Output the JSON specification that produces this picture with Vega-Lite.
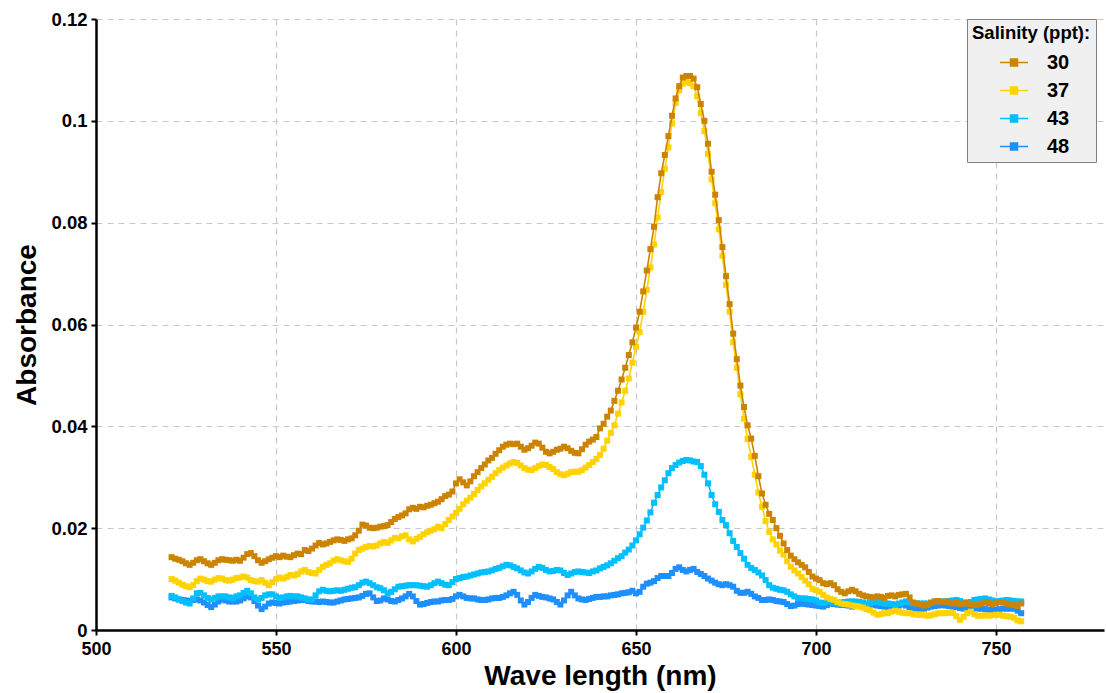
{
"$schema": "https://vega.github.io/schema/vega-lite/v6.json",
"width": 1008, "height": 611,
"autosize": {"type": "none"},
"padding": {"left": 96, "top": 19, "right": 2, "bottom": 63},
"background": "white",
"config": {"view": {"stroke": null}, "font": "Liberation Sans"},
"datasets": {
"s48": [
{"w":521,"s":"48","a":0.0064},{"w":522,"s":"48","a":0.0062},{"w":523,"s":"48","a":0.0060},{"w":524,"s":"48","a":0.0059},{"w":525,"s":"48","a":0.0058},{"w":526,"s":"48","a":0.0057},{"w":527,"s":"48","a":0.0059},{"w":528,"s":"48","a":0.0060},{"w":529,"s":"48","a":0.0058},{"w":530,"s":"48","a":0.0054},
{"w":531,"s":"48","a":0.0049},{"w":532,"s":"48","a":0.0045},{"w":533,"s":"48","a":0.0050},{"w":534,"s":"48","a":0.0056},{"w":535,"s":"48","a":0.0060},{"w":536,"s":"48","a":0.0058},{"w":537,"s":"48","a":0.0056},{"w":538,"s":"48","a":0.0056},{"w":539,"s":"48","a":0.0056},{"w":540,"s":"48","a":0.0058},
{"w":541,"s":"48","a":0.0062},{"w":542,"s":"48","a":0.0066},{"w":543,"s":"48","a":0.0064},{"w":544,"s":"48","a":0.0057},{"w":545,"s":"48","a":0.0048},{"w":546,"s":"48","a":0.0041},{"w":547,"s":"48","a":0.0046},{"w":548,"s":"48","a":0.0052},{"w":549,"s":"48","a":0.0054},{"w":550,"s":"48","a":0.0053},
{"w":551,"s":"48","a":0.0052},{"w":552,"s":"48","a":0.0054},{"w":553,"s":"48","a":0.0055},{"w":554,"s":"48","a":0.0056},{"w":555,"s":"48","a":0.0057},{"w":556,"s":"48","a":0.0058},{"w":557,"s":"48","a":0.0059},{"w":558,"s":"48","a":0.0059},{"w":559,"s":"48","a":0.0057},{"w":560,"s":"48","a":0.0056},
{"w":561,"s":"48","a":0.0056},{"w":562,"s":"48","a":0.0055},{"w":563,"s":"48","a":0.0056},{"w":564,"s":"48","a":0.0055},{"w":565,"s":"48","a":0.0054},{"w":566,"s":"48","a":0.0054},{"w":567,"s":"48","a":0.0056},{"w":568,"s":"48","a":0.0058},{"w":569,"s":"48","a":0.0060},{"w":570,"s":"48","a":0.0061},
{"w":571,"s":"48","a":0.0062},{"w":572,"s":"48","a":0.0063},{"w":573,"s":"48","a":0.0064},{"w":574,"s":"48","a":0.0067},{"w":575,"s":"48","a":0.0071},{"w":576,"s":"48","a":0.0072},{"w":577,"s":"48","a":0.0064},{"w":578,"s":"48","a":0.0057},{"w":579,"s":"48","a":0.0058},{"w":580,"s":"48","a":0.0062},
{"w":581,"s":"48","a":0.0060},{"w":582,"s":"48","a":0.0057},{"w":583,"s":"48","a":0.0056},{"w":584,"s":"48","a":0.0059},{"w":585,"s":"48","a":0.0062},{"w":586,"s":"48","a":0.0066},{"w":587,"s":"48","a":0.0071},{"w":588,"s":"48","a":0.0066},{"w":589,"s":"48","a":0.0057},{"w":590,"s":"48","a":0.0050},
{"w":591,"s":"48","a":0.0051},{"w":592,"s":"48","a":0.0053},{"w":593,"s":"48","a":0.0055},{"w":594,"s":"48","a":0.0056},{"w":595,"s":"48","a":0.0056},{"w":596,"s":"48","a":0.0058},{"w":597,"s":"48","a":0.0059},{"w":598,"s":"48","a":0.0059},{"w":599,"s":"48","a":0.0061},{"w":600,"s":"48","a":0.0066},
{"w":601,"s":"48","a":0.0069},{"w":602,"s":"48","a":0.0066},{"w":603,"s":"48","a":0.0063},{"w":604,"s":"48","a":0.0062},{"w":605,"s":"48","a":0.0062},{"w":606,"s":"48","a":0.0060},{"w":607,"s":"48","a":0.0059},{"w":608,"s":"48","a":0.0059},{"w":609,"s":"48","a":0.0060},{"w":610,"s":"48","a":0.0062},
{"w":611,"s":"48","a":0.0063},{"w":612,"s":"48","a":0.0063},{"w":613,"s":"48","a":0.0065},{"w":614,"s":"48","a":0.0068},{"w":615,"s":"48","a":0.0072},{"w":616,"s":"48","a":0.0075},{"w":617,"s":"48","a":0.0069},{"w":618,"s":"48","a":0.0058},{"w":619,"s":"48","a":0.0050},{"w":620,"s":"48","a":0.0055},
{"w":621,"s":"48","a":0.0063},{"w":622,"s":"48","a":0.0069},{"w":623,"s":"48","a":0.0067},{"w":624,"s":"48","a":0.0065},{"w":625,"s":"48","a":0.0064},{"w":626,"s":"48","a":0.0062},{"w":627,"s":"48","a":0.0060},{"w":628,"s":"48","a":0.0055},{"w":629,"s":"48","a":0.0050},{"w":630,"s":"48","a":0.0058},
{"w":631,"s":"48","a":0.0068},{"w":632,"s":"48","a":0.0075},{"w":633,"s":"48","a":0.0068},{"w":634,"s":"48","a":0.0062},{"w":635,"s":"48","a":0.0060},{"w":636,"s":"48","a":0.0059},{"w":637,"s":"48","a":0.0061},{"w":638,"s":"48","a":0.0063},{"w":639,"s":"48","a":0.0065},{"w":640,"s":"48","a":0.0065},
{"w":641,"s":"48","a":0.0066},{"w":642,"s":"48","a":0.0066},{"w":643,"s":"48","a":0.0068},{"w":644,"s":"48","a":0.0069},{"w":645,"s":"48","a":0.0070},{"w":646,"s":"48","a":0.0072},{"w":647,"s":"48","a":0.0073},{"w":648,"s":"48","a":0.0074},{"w":649,"s":"48","a":0.0077},{"w":650,"s":"48","a":0.0072},
{"w":651,"s":"48","a":0.0075},{"w":652,"s":"48","a":0.0085},{"w":653,"s":"48","a":0.0091},{"w":654,"s":"48","a":0.0093},{"w":655,"s":"48","a":0.0096},{"w":656,"s":"48","a":0.0102},{"w":657,"s":"48","a":0.0106},{"w":658,"s":"48","a":0.0106},{"w":659,"s":"48","a":0.0106},{"w":660,"s":"48","a":0.0112},
{"w":661,"s":"48","a":0.0120},{"w":662,"s":"48","a":0.0123},{"w":663,"s":"48","a":0.0118},{"w":664,"s":"48","a":0.0115},{"w":665,"s":"48","a":0.0118},{"w":666,"s":"48","a":0.0120},{"w":667,"s":"48","a":0.0114},{"w":668,"s":"48","a":0.0110},{"w":669,"s":"48","a":0.0106},{"w":670,"s":"48","a":0.0101},
{"w":671,"s":"48","a":0.0097},{"w":672,"s":"48","a":0.0093},{"w":673,"s":"48","a":0.0090},{"w":674,"s":"48","a":0.0088},{"w":675,"s":"48","a":0.0090},{"w":676,"s":"48","a":0.0088},{"w":677,"s":"48","a":0.0085},{"w":678,"s":"48","a":0.0077},{"w":679,"s":"48","a":0.0073},{"w":680,"s":"48","a":0.0073},
{"w":681,"s":"48","a":0.0075},{"w":682,"s":"48","a":0.0071},{"w":683,"s":"48","a":0.0066},{"w":684,"s":"48","a":0.0063},{"w":685,"s":"48","a":0.0059},{"w":686,"s":"48","a":0.0059},{"w":687,"s":"48","a":0.0060},{"w":688,"s":"48","a":0.0059},{"w":689,"s":"48","a":0.0057},{"w":690,"s":"48","a":0.0056},
{"w":691,"s":"48","a":0.0055},{"w":692,"s":"48","a":0.0051},{"w":693,"s":"48","a":0.0047},{"w":694,"s":"48","a":0.0048},{"w":695,"s":"48","a":0.0051},{"w":696,"s":"48","a":0.0052},{"w":697,"s":"48","a":0.0051},{"w":698,"s":"48","a":0.0050},{"w":699,"s":"48","a":0.0049},{"w":700,"s":"48","a":0.0048},
{"w":701,"s":"48","a":0.0047},{"w":702,"s":"48","a":0.0046},{"w":703,"s":"48","a":0.0049},{"w":704,"s":"48","a":0.0052},{"w":705,"s":"48","a":0.0051},{"w":706,"s":"48","a":0.0050},{"w":707,"s":"48","a":0.0049},{"w":708,"s":"48","a":0.0049},{"w":709,"s":"48","a":0.0048},{"w":710,"s":"48","a":0.0046},
{"w":711,"s":"48","a":0.0047},{"w":712,"s":"48","a":0.0048},{"w":713,"s":"48","a":0.0049},{"w":714,"s":"48","a":0.0049},{"w":715,"s":"48","a":0.0049},{"w":716,"s":"48","a":0.0049},{"w":717,"s":"48","a":0.0048},{"w":718,"s":"48","a":0.0047},{"w":719,"s":"48","a":0.0046},{"w":720,"s":"48","a":0.0046},
{"w":721,"s":"48","a":0.0046},{"w":722,"s":"48","a":0.0047},{"w":723,"s":"48","a":0.0048},{"w":724,"s":"48","a":0.0050},{"w":725,"s":"48","a":0.0048},{"w":726,"s":"48","a":0.0045},{"w":727,"s":"48","a":0.0042},{"w":728,"s":"48","a":0.0042},{"w":729,"s":"48","a":0.0042},{"w":730,"s":"48","a":0.0042},
{"w":731,"s":"48","a":0.0044},{"w":732,"s":"48","a":0.0046},{"w":733,"s":"48","a":0.0047},{"w":734,"s":"48","a":0.0048},{"w":735,"s":"48","a":0.0049},{"w":736,"s":"48","a":0.0048},{"w":737,"s":"48","a":0.0047},{"w":738,"s":"48","a":0.0046},{"w":739,"s":"48","a":0.0045},{"w":740,"s":"48","a":0.0043},
{"w":741,"s":"48","a":0.0042},{"w":742,"s":"48","a":0.0042},{"w":743,"s":"48","a":0.0042},{"w":744,"s":"48","a":0.0042},{"w":745,"s":"48","a":0.0042},{"w":746,"s":"48","a":0.0042},{"w":747,"s":"48","a":0.0041},{"w":748,"s":"48","a":0.0040},{"w":749,"s":"48","a":0.0039},{"w":750,"s":"48","a":0.0040},
{"w":751,"s":"48","a":0.0041},{"w":752,"s":"48","a":0.0042},{"w":753,"s":"48","a":0.0042},{"w":754,"s":"48","a":0.0042},{"w":755,"s":"48","a":0.0042},{"w":756,"s":"48","a":0.0038},{"w":757,"s":"48","a":0.0033}
],
"s43": [
{"w":521,"s":"43","a":0.0067},{"w":522,"s":"43","a":0.0064},{"w":523,"s":"43","a":0.0060},{"w":524,"s":"43","a":0.0057},{"w":525,"s":"43","a":0.0054},{"w":526,"s":"43","a":0.0052},{"w":527,"s":"43","a":0.0062},{"w":528,"s":"43","a":0.0072},{"w":529,"s":"43","a":0.0073},{"w":530,"s":"43","a":0.0068},
{"w":531,"s":"43","a":0.0063},{"w":532,"s":"43","a":0.0060},{"w":533,"s":"43","a":0.0063},{"w":534,"s":"43","a":0.0066},{"w":535,"s":"43","a":0.0066},{"w":536,"s":"43","a":0.0066},{"w":537,"s":"43","a":0.0064},{"w":538,"s":"43","a":0.0063},{"w":539,"s":"43","a":0.0066},{"w":540,"s":"43","a":0.0068},
{"w":541,"s":"43","a":0.0073},{"w":542,"s":"43","a":0.0077},{"w":543,"s":"43","a":0.0072},{"w":544,"s":"43","a":0.0064},{"w":545,"s":"43","a":0.0060},{"w":546,"s":"43","a":0.0063},{"w":547,"s":"43","a":0.0068},{"w":548,"s":"43","a":0.0070},{"w":549,"s":"43","a":0.0070},{"w":550,"s":"43","a":0.0066},
{"w":551,"s":"43","a":0.0063},{"w":552,"s":"43","a":0.0064},{"w":553,"s":"43","a":0.0066},{"w":554,"s":"43","a":0.0067},{"w":555,"s":"43","a":0.0066},{"w":556,"s":"43","a":0.0066},{"w":557,"s":"43","a":0.0064},{"w":558,"s":"43","a":0.0062},{"w":559,"s":"43","a":0.0060},{"w":560,"s":"43","a":0.0060},
{"w":561,"s":"43","a":0.0068},{"w":562,"s":"43","a":0.0076},{"w":563,"s":"43","a":0.0079},{"w":564,"s":"43","a":0.0077},{"w":565,"s":"43","a":0.0076},{"w":566,"s":"43","a":0.0077},{"w":567,"s":"43","a":0.0078},{"w":568,"s":"43","a":0.0077},{"w":569,"s":"43","a":0.0079},{"w":570,"s":"43","a":0.0081},
{"w":571,"s":"43","a":0.0083},{"w":572,"s":"43","a":0.0084},{"w":573,"s":"43","a":0.0088},{"w":574,"s":"43","a":0.0093},{"w":575,"s":"43","a":0.0095},{"w":576,"s":"43","a":0.0092},{"w":577,"s":"43","a":0.0088},{"w":578,"s":"43","a":0.0084},{"w":579,"s":"43","a":0.0082},{"w":580,"s":"43","a":0.0078},
{"w":581,"s":"43","a":0.0072},{"w":582,"s":"43","a":0.0075},{"w":583,"s":"43","a":0.0080},{"w":584,"s":"43","a":0.0085},{"w":585,"s":"43","a":0.0086},{"w":586,"s":"43","a":0.0087},{"w":587,"s":"43","a":0.0088},{"w":588,"s":"43","a":0.0088},{"w":589,"s":"43","a":0.0088},{"w":590,"s":"43","a":0.0087},
{"w":591,"s":"43","a":0.0086},{"w":592,"s":"43","a":0.0085},{"w":593,"s":"43","a":0.0088},{"w":594,"s":"43","a":0.0092},{"w":595,"s":"43","a":0.0095},{"w":596,"s":"43","a":0.0092},{"w":597,"s":"43","a":0.0089},{"w":598,"s":"43","a":0.0088},{"w":599,"s":"43","a":0.0094},{"w":600,"s":"43","a":0.0100},
{"w":601,"s":"43","a":0.0102},{"w":602,"s":"43","a":0.0104},{"w":603,"s":"43","a":0.0105},{"w":604,"s":"43","a":0.0107},{"w":605,"s":"43","a":0.0109},{"w":606,"s":"43","a":0.0111},{"w":607,"s":"43","a":0.0113},{"w":608,"s":"43","a":0.0114},{"w":609,"s":"43","a":0.0115},{"w":610,"s":"43","a":0.0117},
{"w":611,"s":"43","a":0.0120},{"w":612,"s":"43","a":0.0122},{"w":613,"s":"43","a":0.0125},{"w":614,"s":"43","a":0.0128},{"w":615,"s":"43","a":0.0127},{"w":616,"s":"43","a":0.0124},{"w":617,"s":"43","a":0.0121},{"w":618,"s":"43","a":0.0117},{"w":619,"s":"43","a":0.0113},{"w":620,"s":"43","a":0.0111},
{"w":621,"s":"43","a":0.0115},{"w":622,"s":"43","a":0.0120},{"w":623,"s":"43","a":0.0124},{"w":624,"s":"43","a":0.0122},{"w":625,"s":"43","a":0.0118},{"w":626,"s":"43","a":0.0115},{"w":627,"s":"43","a":0.0116},{"w":628,"s":"43","a":0.0118},{"w":629,"s":"43","a":0.0117},{"w":630,"s":"43","a":0.0112},
{"w":631,"s":"43","a":0.0108},{"w":632,"s":"43","a":0.0111},{"w":633,"s":"43","a":0.0114},{"w":634,"s":"43","a":0.0115},{"w":635,"s":"43","a":0.0114},{"w":636,"s":"43","a":0.0113},{"w":637,"s":"43","a":0.0112},{"w":638,"s":"43","a":0.0115},{"w":639,"s":"43","a":0.0117},{"w":640,"s":"43","a":0.0121},
{"w":641,"s":"43","a":0.0124},{"w":642,"s":"43","a":0.0127},{"w":643,"s":"43","a":0.0131},{"w":644,"s":"43","a":0.0136},{"w":645,"s":"43","a":0.0141},{"w":646,"s":"43","a":0.0145},{"w":647,"s":"43","a":0.0152},{"w":648,"s":"43","a":0.0158},{"w":649,"s":"43","a":0.0166},{"w":650,"s":"43","a":0.0176},
{"w":651,"s":"43","a":0.0188},{"w":652,"s":"43","a":0.0201},{"w":653,"s":"43","a":0.0215},{"w":654,"s":"43","a":0.0231},{"w":655,"s":"43","a":0.0250},{"w":656,"s":"43","a":0.0265},{"w":657,"s":"43","a":0.0280},{"w":658,"s":"43","a":0.0294},{"w":659,"s":"43","a":0.0308},{"w":660,"s":"43","a":0.0318},
{"w":661,"s":"43","a":0.0324},{"w":662,"s":"43","a":0.0329},{"w":663,"s":"43","a":0.0332},{"w":664,"s":"43","a":0.0334},{"w":665,"s":"43","a":0.0333},{"w":666,"s":"43","a":0.0331},{"w":667,"s":"43","a":0.0330},{"w":668,"s":"43","a":0.0322},{"w":669,"s":"43","a":0.0305},{"w":670,"s":"43","a":0.0288},
{"w":671,"s":"43","a":0.0265},{"w":672,"s":"43","a":0.0247},{"w":673,"s":"43","a":0.0232},{"w":674,"s":"43","a":0.0216},{"w":675,"s":"43","a":0.0206},{"w":676,"s":"43","a":0.0190},{"w":677,"s":"43","a":0.0175},{"w":678,"s":"43","a":0.0163},{"w":679,"s":"43","a":0.0151},{"w":680,"s":"43","a":0.0140},
{"w":681,"s":"43","a":0.0128},{"w":682,"s":"43","a":0.0122},{"w":683,"s":"43","a":0.0118},{"w":684,"s":"43","a":0.0113},{"w":685,"s":"43","a":0.0107},{"w":686,"s":"43","a":0.0098},{"w":687,"s":"43","a":0.0088},{"w":688,"s":"43","a":0.0083},{"w":689,"s":"43","a":0.0081},{"w":690,"s":"43","a":0.0079},
{"w":691,"s":"43","a":0.0078},{"w":692,"s":"43","a":0.0075},{"w":693,"s":"43","a":0.0070},{"w":694,"s":"43","a":0.0066},{"w":695,"s":"43","a":0.0063},{"w":696,"s":"43","a":0.0062},{"w":697,"s":"43","a":0.0062},{"w":698,"s":"43","a":0.0061},{"w":699,"s":"43","a":0.0060},{"w":700,"s":"43","a":0.0058},
{"w":701,"s":"43","a":0.0054},{"w":702,"s":"43","a":0.0053},{"w":703,"s":"43","a":0.0055},{"w":704,"s":"43","a":0.0056},{"w":705,"s":"43","a":0.0054},{"w":706,"s":"43","a":0.0052},{"w":707,"s":"43","a":0.0054},{"w":708,"s":"43","a":0.0055},{"w":709,"s":"43","a":0.0056},{"w":710,"s":"43","a":0.0056},
{"w":711,"s":"43","a":0.0056},{"w":712,"s":"43","a":0.0055},{"w":713,"s":"43","a":0.0054},{"w":714,"s":"43","a":0.0052},{"w":715,"s":"43","a":0.0053},{"w":716,"s":"43","a":0.0055},{"w":717,"s":"43","a":0.0056},{"w":718,"s":"43","a":0.0054},{"w":719,"s":"43","a":0.0052},{"w":720,"s":"43","a":0.0052},
{"w":721,"s":"43","a":0.0051},{"w":722,"s":"43","a":0.0050},{"w":723,"s":"43","a":0.0052},{"w":724,"s":"43","a":0.0054},{"w":725,"s":"43","a":0.0056},{"w":726,"s":"43","a":0.0054},{"w":727,"s":"43","a":0.0052},{"w":728,"s":"43","a":0.0052},{"w":729,"s":"43","a":0.0052},{"w":730,"s":"43","a":0.0052},
{"w":731,"s":"43","a":0.0052},{"w":732,"s":"43","a":0.0054},{"w":733,"s":"43","a":0.0056},{"w":734,"s":"43","a":0.0056},{"w":735,"s":"43","a":0.0056},{"w":736,"s":"43","a":0.0056},{"w":737,"s":"43","a":0.0057},{"w":738,"s":"43","a":0.0058},{"w":739,"s":"43","a":0.0059},{"w":740,"s":"43","a":0.0057},
{"w":741,"s":"43","a":0.0054},{"w":742,"s":"43","a":0.0052},{"w":743,"s":"43","a":0.0055},{"w":744,"s":"43","a":0.0059},{"w":745,"s":"43","a":0.0060},{"w":746,"s":"43","a":0.0061},{"w":747,"s":"43","a":0.0062},{"w":748,"s":"43","a":0.0060},{"w":749,"s":"43","a":0.0058},{"w":750,"s":"43","a":0.0056},
{"w":751,"s":"43","a":0.0057},{"w":752,"s":"43","a":0.0058},{"w":753,"s":"43","a":0.0059},{"w":754,"s":"43","a":0.0058},{"w":755,"s":"43","a":0.0057},{"w":756,"s":"43","a":0.0056},{"w":757,"s":"43","a":0.0056}
],
"s37": [
{"w":521,"s":"37","a":0.0100},{"w":522,"s":"37","a":0.0097},{"w":523,"s":"37","a":0.0093},{"w":524,"s":"37","a":0.0089},{"w":525,"s":"37","a":0.0086},{"w":526,"s":"37","a":0.0084},{"w":527,"s":"37","a":0.0088},{"w":528,"s":"37","a":0.0096},{"w":529,"s":"37","a":0.0101},{"w":530,"s":"37","a":0.0099},
{"w":531,"s":"37","a":0.0096},{"w":532,"s":"37","a":0.0095},{"w":533,"s":"37","a":0.0099},{"w":534,"s":"37","a":0.0102},{"w":535,"s":"37","a":0.0101},{"w":536,"s":"37","a":0.0098},{"w":537,"s":"37","a":0.0097},{"w":538,"s":"37","a":0.0099},{"w":539,"s":"37","a":0.0102},{"w":540,"s":"37","a":0.0103},
{"w":541,"s":"37","a":0.0105},{"w":542,"s":"37","a":0.0103},{"w":543,"s":"37","a":0.0098},{"w":544,"s":"37","a":0.0096},{"w":545,"s":"37","a":0.0095},{"w":546,"s":"37","a":0.0098},{"w":547,"s":"37","a":0.0093},{"w":548,"s":"37","a":0.0088},{"w":549,"s":"37","a":0.0094},{"w":550,"s":"37","a":0.0100},
{"w":551,"s":"37","a":0.0103},{"w":552,"s":"37","a":0.0101},{"w":553,"s":"37","a":0.0104},{"w":554,"s":"37","a":0.0108},{"w":555,"s":"37","a":0.0107},{"w":556,"s":"37","a":0.0110},{"w":557,"s":"37","a":0.0115},{"w":558,"s":"37","a":0.0118},{"w":559,"s":"37","a":0.0114},{"w":560,"s":"37","a":0.0112},
{"w":561,"s":"37","a":0.0111},{"w":562,"s":"37","a":0.0118},{"w":563,"s":"37","a":0.0124},{"w":564,"s":"37","a":0.0128},{"w":565,"s":"37","a":0.0131},{"w":566,"s":"37","a":0.0136},{"w":567,"s":"37","a":0.0139},{"w":568,"s":"37","a":0.0137},{"w":569,"s":"37","a":0.0135},{"w":570,"s":"37","a":0.0134},
{"w":571,"s":"37","a":0.0140},{"w":572,"s":"37","a":0.0150},{"w":573,"s":"37","a":0.0157},{"w":574,"s":"37","a":0.0160},{"w":575,"s":"37","a":0.0163},{"w":576,"s":"37","a":0.0165},{"w":577,"s":"37","a":0.0164},{"w":578,"s":"37","a":0.0166},{"w":579,"s":"37","a":0.0170},{"w":580,"s":"37","a":0.0173},
{"w":581,"s":"37","a":0.0171},{"w":582,"s":"37","a":0.0176},{"w":583,"s":"37","a":0.0181},{"w":584,"s":"37","a":0.0180},{"w":585,"s":"37","a":0.0184},{"w":586,"s":"37","a":0.0186},{"w":587,"s":"37","a":0.0178},{"w":588,"s":"37","a":0.0174},{"w":589,"s":"37","a":0.0179},{"w":590,"s":"37","a":0.0183},
{"w":591,"s":"37","a":0.0188},{"w":592,"s":"37","a":0.0192},{"w":593,"s":"37","a":0.0195},{"w":594,"s":"37","a":0.0198},{"w":595,"s":"37","a":0.0203},{"w":596,"s":"37","a":0.0200},{"w":597,"s":"37","a":0.0208},{"w":598,"s":"37","a":0.0216},{"w":599,"s":"37","a":0.0223},{"w":600,"s":"37","a":0.0230},
{"w":601,"s":"37","a":0.0238},{"w":602,"s":"37","a":0.0247},{"w":603,"s":"37","a":0.0254},{"w":604,"s":"37","a":0.0260},{"w":605,"s":"37","a":0.0267},{"w":606,"s":"37","a":0.0275},{"w":607,"s":"37","a":0.0282},{"w":608,"s":"37","a":0.0288},{"w":609,"s":"37","a":0.0295},{"w":610,"s":"37","a":0.0301},
{"w":611,"s":"37","a":0.0308},{"w":612,"s":"37","a":0.0314},{"w":613,"s":"37","a":0.0319},{"w":614,"s":"37","a":0.0323},{"w":615,"s":"37","a":0.0327},{"w":616,"s":"37","a":0.0330},{"w":617,"s":"37","a":0.0328},{"w":618,"s":"37","a":0.0323},{"w":619,"s":"37","a":0.0318},{"w":620,"s":"37","a":0.0315},
{"w":621,"s":"37","a":0.0314},{"w":622,"s":"37","a":0.0318},{"w":623,"s":"37","a":0.0322},{"w":624,"s":"37","a":0.0325},{"w":625,"s":"37","a":0.0324},{"w":626,"s":"37","a":0.0320},{"w":627,"s":"37","a":0.0316},{"w":628,"s":"37","a":0.0310},{"w":629,"s":"37","a":0.0306},{"w":630,"s":"37","a":0.0304},
{"w":631,"s":"37","a":0.0307},{"w":632,"s":"37","a":0.0310},{"w":633,"s":"37","a":0.0311},{"w":634,"s":"37","a":0.0311},{"w":635,"s":"37","a":0.0314},{"w":636,"s":"37","a":0.0319},{"w":637,"s":"37","a":0.0324},{"w":638,"s":"37","a":0.0330},{"w":639,"s":"37","a":0.0336},{"w":640,"s":"37","a":0.0344},
{"w":641,"s":"37","a":0.0356},{"w":642,"s":"37","a":0.0372},{"w":643,"s":"37","a":0.0387},{"w":644,"s":"37","a":0.0402},{"w":645,"s":"37","a":0.0425},{"w":646,"s":"37","a":0.0447},{"w":647,"s":"37","a":0.0470},{"w":648,"s":"37","a":0.0494},{"w":649,"s":"37","a":0.0525},{"w":650,"s":"37","a":0.0556},
{"w":651,"s":"37","a":0.0585},{"w":652,"s":"37","a":0.0625},{"w":653,"s":"37","a":0.0668},{"w":654,"s":"37","a":0.0712},{"w":655,"s":"37","a":0.0757},{"w":656,"s":"37","a":0.0810},{"w":657,"s":"37","a":0.0860},{"w":658,"s":"37","a":0.0906},{"w":659,"s":"37","a":0.0948},{"w":660,"s":"37","a":0.0995},
{"w":661,"s":"37","a":0.1035},{"w":662,"s":"37","a":0.1060},{"w":663,"s":"37","a":0.1073},{"w":664,"s":"37","a":0.1076},{"w":665,"s":"37","a":0.1074},{"w":666,"s":"37","a":0.1068},{"w":667,"s":"37","a":0.1048},{"w":668,"s":"37","a":0.1015},{"w":669,"s":"37","a":0.0980},{"w":670,"s":"37","a":0.0935},
{"w":671,"s":"37","a":0.0885},{"w":672,"s":"37","a":0.0838},{"w":673,"s":"37","a":0.0787},{"w":674,"s":"37","a":0.0735},{"w":675,"s":"37","a":0.0678},{"w":676,"s":"37","a":0.0625},{"w":677,"s":"37","a":0.0565},{"w":678,"s":"37","a":0.0515},{"w":679,"s":"37","a":0.0463},{"w":680,"s":"37","a":0.0415},
{"w":681,"s":"37","a":0.0375},{"w":682,"s":"37","a":0.0340},{"w":683,"s":"37","a":0.0305},{"w":684,"s":"37","a":0.0270},{"w":685,"s":"37","a":0.0242},{"w":686,"s":"37","a":0.0214},{"w":687,"s":"37","a":0.0193},{"w":688,"s":"37","a":0.0178},{"w":689,"s":"37","a":0.0168},{"w":690,"s":"37","a":0.0156},
{"w":691,"s":"37","a":0.0148},{"w":692,"s":"37","a":0.0135},{"w":693,"s":"37","a":0.0124},{"w":694,"s":"37","a":0.0117},{"w":695,"s":"37","a":0.0111},{"w":696,"s":"37","a":0.0104},{"w":697,"s":"37","a":0.0097},{"w":698,"s":"37","a":0.0090},{"w":699,"s":"37","a":0.0081},{"w":700,"s":"37","a":0.0078},
{"w":701,"s":"37","a":0.0075},{"w":702,"s":"37","a":0.0069},{"w":703,"s":"37","a":0.0064},{"w":704,"s":"37","a":0.0061},{"w":705,"s":"37","a":0.0059},{"w":706,"s":"37","a":0.0055},{"w":707,"s":"37","a":0.0052},{"w":708,"s":"37","a":0.0051},{"w":709,"s":"37","a":0.0050},{"w":710,"s":"37","a":0.0048},
{"w":711,"s":"37","a":0.0047},{"w":712,"s":"37","a":0.0046},{"w":713,"s":"37","a":0.0044},{"w":714,"s":"37","a":0.0041},{"w":715,"s":"37","a":0.0039},{"w":716,"s":"37","a":0.0034},{"w":717,"s":"37","a":0.0030},{"w":718,"s":"37","a":0.0031},{"w":719,"s":"37","a":0.0033},{"w":720,"s":"37","a":0.0033},
{"w":721,"s":"37","a":0.0036},{"w":722,"s":"37","a":0.0038},{"w":723,"s":"37","a":0.0036},{"w":724,"s":"37","a":0.0034},{"w":725,"s":"37","a":0.0033},{"w":726,"s":"37","a":0.0033},{"w":727,"s":"37","a":0.0031},{"w":728,"s":"37","a":0.0030},{"w":729,"s":"37","a":0.0030},{"w":730,"s":"37","a":0.0029},
{"w":731,"s":"37","a":0.0028},{"w":732,"s":"37","a":0.0029},{"w":733,"s":"37","a":0.0031},{"w":734,"s":"37","a":0.0033},{"w":735,"s":"37","a":0.0033},{"w":736,"s":"37","a":0.0033},{"w":737,"s":"37","a":0.0034},{"w":738,"s":"37","a":0.0033},{"w":739,"s":"37","a":0.0027},{"w":740,"s":"37","a":0.0020},
{"w":741,"s":"37","a":0.0026},{"w":742,"s":"37","a":0.0033},{"w":743,"s":"37","a":0.0036},{"w":744,"s":"37","a":0.0031},{"w":745,"s":"37","a":0.0028},{"w":746,"s":"37","a":0.0028},{"w":747,"s":"37","a":0.0029},{"w":748,"s":"37","a":0.0028},{"w":749,"s":"37","a":0.0029},{"w":750,"s":"37","a":0.0030},
{"w":751,"s":"37","a":0.0030},{"w":752,"s":"37","a":0.0028},{"w":753,"s":"37","a":0.0027},{"w":754,"s":"37","a":0.0026},{"w":755,"s":"37","a":0.0024},{"w":756,"s":"37","a":0.0019},{"w":757,"s":"37","a":0.0017}
],
"s30": [
{"w":521,"s":"30","a":0.0143},{"w":522,"s":"30","a":0.0140},{"w":523,"s":"30","a":0.0138},{"w":524,"s":"30","a":0.0135},{"w":525,"s":"30","a":0.0131},{"w":526,"s":"30","a":0.0128},{"w":527,"s":"30","a":0.0132},{"w":528,"s":"30","a":0.0137},{"w":529,"s":"30","a":0.0139},{"w":530,"s":"30","a":0.0135},
{"w":531,"s":"30","a":0.0131},{"w":532,"s":"30","a":0.0128},{"w":533,"s":"30","a":0.0132},{"w":534,"s":"30","a":0.0137},{"w":535,"s":"30","a":0.0139},{"w":536,"s":"30","a":0.0138},{"w":537,"s":"30","a":0.0137},{"w":538,"s":"30","a":0.0136},{"w":539,"s":"30","a":0.0138},{"w":540,"s":"30","a":0.0136},
{"w":541,"s":"30","a":0.0142},{"w":542,"s":"30","a":0.0149},{"w":543,"s":"30","a":0.0151},{"w":544,"s":"30","a":0.0145},{"w":545,"s":"30","a":0.0137},{"w":546,"s":"30","a":0.0132},{"w":547,"s":"30","a":0.0135},{"w":548,"s":"30","a":0.0139},{"w":549,"s":"30","a":0.0142},{"w":550,"s":"30","a":0.0145},
{"w":551,"s":"30","a":0.0143},{"w":552,"s":"30","a":0.0146},{"w":553,"s":"30","a":0.0144},{"w":554,"s":"30","a":0.0143},{"w":555,"s":"30","a":0.0147},{"w":556,"s":"30","a":0.0150},{"w":557,"s":"30","a":0.0149},{"w":558,"s":"30","a":0.0157},{"w":559,"s":"30","a":0.0155},{"w":560,"s":"30","a":0.0160},
{"w":561,"s":"30","a":0.0166},{"w":562,"s":"30","a":0.0171},{"w":563,"s":"30","a":0.0168},{"w":564,"s":"30","a":0.0170},{"w":565,"s":"30","a":0.0173},{"w":566,"s":"30","a":0.0176},{"w":567,"s":"30","a":0.0178},{"w":568,"s":"30","a":0.0177},{"w":569,"s":"30","a":0.0175},{"w":570,"s":"30","a":0.0178},
{"w":571,"s":"30","a":0.0180},{"w":572,"s":"30","a":0.0186},{"w":573,"s":"30","a":0.0195},{"w":574,"s":"30","a":0.0207},{"w":575,"s":"30","a":0.0205},{"w":576,"s":"30","a":0.0201},{"w":577,"s":"30","a":0.0200},{"w":578,"s":"30","a":0.0201},{"w":579,"s":"30","a":0.0203},{"w":580,"s":"30","a":0.0204},
{"w":581,"s":"30","a":0.0206},{"w":582,"s":"30","a":0.0212},{"w":583,"s":"30","a":0.0218},{"w":584,"s":"30","a":0.0222},{"w":585,"s":"30","a":0.0225},{"w":586,"s":"30","a":0.0229},{"w":587,"s":"30","a":0.0237},{"w":588,"s":"30","a":0.0240},{"w":589,"s":"30","a":0.0238},{"w":590,"s":"30","a":0.0242},
{"w":591,"s":"30","a":0.0241},{"w":592,"s":"30","a":0.0244},{"w":593,"s":"30","a":0.0246},{"w":594,"s":"30","a":0.0249},{"w":595,"s":"30","a":0.0252},{"w":596,"s":"30","a":0.0257},{"w":597,"s":"30","a":0.0263},{"w":598,"s":"30","a":0.0266},{"w":599,"s":"30","a":0.0272},{"w":600,"s":"30","a":0.0288},
{"w":601,"s":"30","a":0.0296},{"w":602,"s":"30","a":0.0290},{"w":603,"s":"30","a":0.0284},{"w":604,"s":"30","a":0.0292},{"w":605,"s":"30","a":0.0302},{"w":606,"s":"30","a":0.0310},{"w":607,"s":"30","a":0.0318},{"w":608,"s":"30","a":0.0325},{"w":609,"s":"30","a":0.0333},{"w":610,"s":"30","a":0.0338},
{"w":611,"s":"30","a":0.0346},{"w":612,"s":"30","a":0.0353},{"w":613,"s":"30","a":0.0360},{"w":614,"s":"30","a":0.0364},{"w":615,"s":"30","a":0.0366},{"w":616,"s":"30","a":0.0365},{"w":617,"s":"30","a":0.0366},{"w":618,"s":"30","a":0.0360},{"w":619,"s":"30","a":0.0354},{"w":620,"s":"30","a":0.0357},
{"w":621,"s":"30","a":0.0362},{"w":622,"s":"30","a":0.0368},{"w":623,"s":"30","a":0.0366},{"w":624,"s":"30","a":0.0358},{"w":625,"s":"30","a":0.0350},{"w":626,"s":"30","a":0.0347},{"w":627,"s":"30","a":0.0350},{"w":628,"s":"30","a":0.0354},{"w":629,"s":"30","a":0.0356},{"w":630,"s":"30","a":0.0360},
{"w":631,"s":"30","a":0.0357},{"w":632,"s":"30","a":0.0352},{"w":633,"s":"30","a":0.0348},{"w":634,"s":"30","a":0.0347},{"w":635,"s":"30","a":0.0355},{"w":636,"s":"30","a":0.0364},{"w":637,"s":"30","a":0.0370},{"w":638,"s":"30","a":0.0374},{"w":639,"s":"30","a":0.0379},{"w":640,"s":"30","a":0.0396},
{"w":641,"s":"30","a":0.0405},{"w":642,"s":"30","a":0.0419},{"w":643,"s":"30","a":0.0431},{"w":644,"s":"30","a":0.0450},{"w":645,"s":"30","a":0.0470},{"w":646,"s":"30","a":0.0492},{"w":647,"s":"30","a":0.0515},{"w":648,"s":"30","a":0.0540},{"w":649,"s":"30","a":0.0565},{"w":650,"s":"30","a":0.0594},
{"w":651,"s":"30","a":0.0625},{"w":652,"s":"30","a":0.0665},{"w":653,"s":"30","a":0.0706},{"w":654,"s":"30","a":0.0748},{"w":655,"s":"30","a":0.0792},{"w":656,"s":"30","a":0.0850},{"w":657,"s":"30","a":0.0897},{"w":658,"s":"30","a":0.0933},{"w":659,"s":"30","a":0.0970},{"w":660,"s":"30","a":0.1010},
{"w":661,"s":"30","a":0.1044},{"w":662,"s":"30","a":0.1068},{"w":663,"s":"30","a":0.1085},{"w":664,"s":"30","a":0.1088},{"w":665,"s":"30","a":0.1088},{"w":666,"s":"30","a":0.1083},{"w":667,"s":"30","a":0.1066},{"w":668,"s":"30","a":0.1033},{"w":669,"s":"30","a":0.1000},{"w":670,"s":"30","a":0.0955},
{"w":671,"s":"30","a":0.0900},{"w":672,"s":"30","a":0.0855},{"w":673,"s":"30","a":0.0805},{"w":674,"s":"30","a":0.0752},{"w":675,"s":"30","a":0.0695},{"w":676,"s":"30","a":0.0640},{"w":677,"s":"30","a":0.0582},{"w":678,"s":"30","a":0.0532},{"w":679,"s":"30","a":0.0480},{"w":680,"s":"30","a":0.0438},
{"w":681,"s":"30","a":0.0402},{"w":682,"s":"30","a":0.0376},{"w":683,"s":"30","a":0.0342},{"w":684,"s":"30","a":0.0302},{"w":685,"s":"30","a":0.0268},{"w":686,"s":"30","a":0.0246},{"w":687,"s":"30","a":0.0228},{"w":688,"s":"30","a":0.0216},{"w":689,"s":"30","a":0.0200},{"w":690,"s":"30","a":0.0185},
{"w":691,"s":"30","a":0.0170},{"w":692,"s":"30","a":0.0157},{"w":693,"s":"30","a":0.0146},{"w":694,"s":"30","a":0.0139},{"w":695,"s":"30","a":0.0133},{"w":696,"s":"30","a":0.0128},{"w":697,"s":"30","a":0.0123},{"w":698,"s":"30","a":0.0114},{"w":699,"s":"30","a":0.0105},{"w":700,"s":"30","a":0.0101},
{"w":701,"s":"30","a":0.0098},{"w":702,"s":"30","a":0.0092},{"w":703,"s":"30","a":0.0090},{"w":704,"s":"30","a":0.0092},{"w":705,"s":"30","a":0.0088},{"w":706,"s":"30","a":0.0080},{"w":707,"s":"30","a":0.0075},{"w":708,"s":"30","a":0.0072},{"w":709,"s":"30","a":0.0076},{"w":710,"s":"30","a":0.0079},
{"w":711,"s":"30","a":0.0076},{"w":712,"s":"30","a":0.0071},{"w":713,"s":"30","a":0.0068},{"w":714,"s":"30","a":0.0066},{"w":715,"s":"30","a":0.0065},{"w":716,"s":"30","a":0.0064},{"w":717,"s":"30","a":0.0066},{"w":718,"s":"30","a":0.0065},{"w":719,"s":"30","a":0.0063},{"w":720,"s":"30","a":0.0067},
{"w":721,"s":"30","a":0.0068},{"w":722,"s":"30","a":0.0066},{"w":723,"s":"30","a":0.0069},{"w":724,"s":"30","a":0.0070},{"w":725,"s":"30","a":0.0071},{"w":726,"s":"30","a":0.0064},{"w":727,"s":"30","a":0.0054},{"w":728,"s":"30","a":0.0052},{"w":729,"s":"30","a":0.0050},{"w":730,"s":"30","a":0.0048},
{"w":731,"s":"30","a":0.0049},{"w":732,"s":"30","a":0.0053},{"w":733,"s":"30","a":0.0056},{"w":734,"s":"30","a":0.0057},{"w":735,"s":"30","a":0.0055},{"w":736,"s":"30","a":0.0056},{"w":737,"s":"30","a":0.0054},{"w":738,"s":"30","a":0.0052},{"w":739,"s":"30","a":0.0053},{"w":740,"s":"30","a":0.0051},
{"w":741,"s":"30","a":0.0052},{"w":742,"s":"30","a":0.0054},{"w":743,"s":"30","a":0.0051},{"w":744,"s":"30","a":0.0049},{"w":745,"s":"30","a":0.0050},{"w":746,"s":"30","a":0.0052},{"w":747,"s":"30","a":0.0054},{"w":748,"s":"30","a":0.0053},{"w":749,"s":"30","a":0.0051},{"w":750,"s":"30","a":0.0053},
{"w":751,"s":"30","a":0.0055},{"w":752,"s":"30","a":0.0054},{"w":753,"s":"30","a":0.0052},{"w":754,"s":"30","a":0.0050},{"w":755,"s":"30","a":0.0049},{"w":756,"s":"30","a":0.0047},{"w":757,"s":"30","a":0.0052}
]
},
"encoding": {
  "x": {"field": "w", "type": "quantitative",
    "scale": {"domain": [500, 780], "nice": false, "zero": false},
    "axis": {"title": "Wave length (nm)", "values": [500, 550, 600, 650, 700, 750], "labelFlush": false,
      "domainColor": "black", "domainWidth": 2.5, "tickColor": "black", "tickWidth": 2, "tickSize": 5,
      "labelFont": "Liberation Sans", "labelFontSize": 18, "labelFontWeight": "bold", "labelColor": "black", "labelPadding": 5,
      "titleFont": "Liberation Sans", "titleFontSize": 28, "titleFontWeight": "bold", "titleColor": "black", "titlePadding": 4,
      "grid": true, "gridColor": "#c8c8c8", "gridDash": [6, 5], "gridWidth": 1.2}},
  "y": {"field": "a", "type": "quantitative",
    "scale": {"domain": [0, 0.12], "nice": false},
    "axis": {"title": "Absorbance", "values": [0, 0.02, 0.04, 0.06, 0.08, 0.1, 0.12], "labelFlush": false,
      "labelExpr": "datum.value == 0 ? '0' : format(datum.value, '.2~f')",
      "domainColor": "black", "domainWidth": 2.5, "tickColor": "black", "tickWidth": 2, "tickSize": 5,
      "labelFont": "Liberation Sans", "labelFontSize": 18.5, "labelFontWeight": "bold", "labelColor": "black", "labelPadding": 4,
      "titleFont": "Liberation Sans", "titleFontSize": 28, "titleFontWeight": "bold", "titleColor": "black", "titlePadding": 9,
      "grid": true, "gridColor": "#c8c8c8", "gridDash": [6, 5], "gridWidth": 1.2}},
  "color": {"field": "s", "type": "nominal", "title": "Salinity (ppt):",
    "scale": {"domain": ["30", "37", "43", "48"], "range": ["#CC8400", "#FFD200", "#00BFFF", "#1E8FFF"]},
    "legend": {"orient": "none", "legendX": 871, "legendY": 0,
      "fillColor": "#f0f0f0", "strokeColor": "#808080", "padding": 5,
      "titleFont": "Liberation Sans", "titleFontSize": 18.5, "titleFontWeight": "bold", "titleColor": "black", "titlePadding": 5,
      "labelFont": "Liberation Sans", "labelFontSize": 20, "labelFontWeight": "bold", "labelColor": "black",
      "symbolType": "M-1,0H1M-0.25,-0.25H0.25V0.25H-0.25Z", "symbolSize": 784, "symbolStrokeWidth": 1.5,
      "symbolOffset": 27, "labelOffset": 18, "rowPadding": 3,
      "encode": {"symbols": {"update": {"fill": {"scale": "color", "field": "value"}, "stroke": {"scale": "color", "field": "value"}, "opacity": {"value": 1}}}}}}
},
"layer": [
  {"data": {"name": "s48"}, "mark": {"type": "line", "strokeWidth": 1.6, "point": {"shape": "square", "filled": true, "size": 36, "opacity": 1}}},
  {"data": {"name": "s43"}, "mark": {"type": "line", "strokeWidth": 1.6, "point": {"shape": "square", "filled": true, "size": 36, "opacity": 1}}},
  {"data": {"name": "s37"}, "mark": {"type": "line", "strokeWidth": 1.6, "point": {"shape": "square", "filled": true, "size": 36, "opacity": 1}}},
  {"data": {"name": "s30"}, "mark": {"type": "line", "strokeWidth": 1.6, "point": {"shape": "square", "filled": true, "size": 36, "opacity": 1}}}
]
}
